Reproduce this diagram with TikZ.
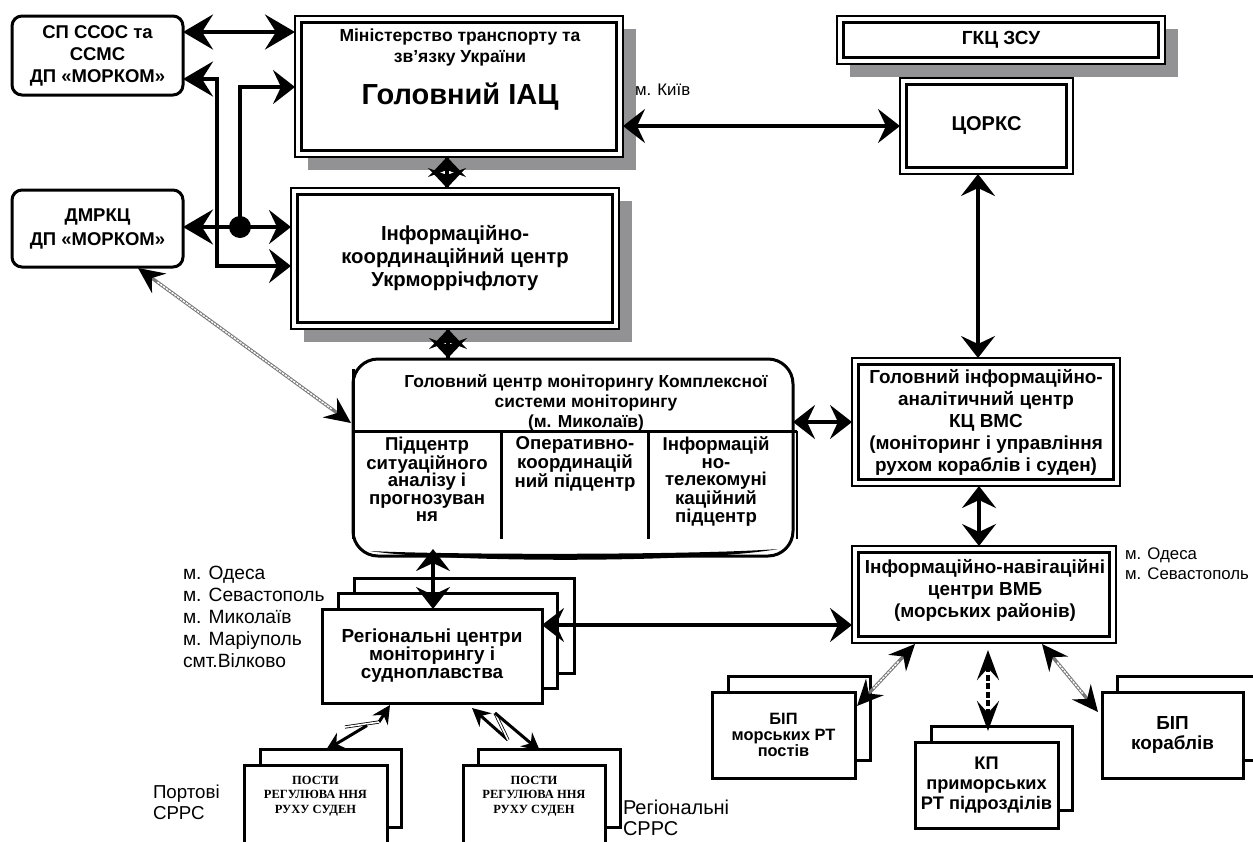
\documentclass[tikz,border=0pt]{standalone}
\usepackage{fontspec}
\setmainfont{Liberation Sans}
\newfontfamily\postfont{Liberation Serif}
\usetikzlibrary{arrows.meta,shadows}
\definecolor{shadowc}{RGB}{146,146,148}
\definecolor{hatchc}{RGB}{120,120,120}
\newcommand\fsz[2]{\fontsize{#1}{#2}\selectfont}
\newcommand\innerframe[1]{\draw[line width=3pt] ([shift={(6.5,6.5)}]#1.north west) rectangle ([shift={(-6.5,-6.5)}]#1.south east);}
\begin{document}
\begin{tikzpicture}[x=1pt,y=-1pt,
  every node/.style={inner sep=0pt, outer sep=0pt},
  tBig/.tip={Stealth[length=30pt,width=35pt,inset=11pt]},
  tMed/.tip={Stealth[length=22pt,width=34pt,inset=8pt]},
  tHat/.tip={Stealth[length=26pt,width=24pt,inset=9pt,color=black]},
  tZig/.tip={Stealth[length=18pt,width=18pt,inset=6pt]},
  tKp/.tip={Stealth[length=30pt,width=22pt,inset=12pt]},
  conn/.style={line width=4pt},
  rbox/.style={draw, line width=3pt, rounded corners=10pt, fill=white},
  dbox/.style={draw, line width=2pt, fill=white},
  shad/.style={drop shadow={shadow xshift=13pt, shadow yshift=-13pt, fill=shadowc, opacity=1}},
  sbox/.style={draw, line width=3pt, fill=white},
  bt/.style={align=center},
  lbl/.style={align=left, anchor=west},
  hatch/.style={line width=3.4pt, draw=hatchc},
  hatchin/.style={line width=1.4pt, draw=white, dash pattern=on 2.5pt off 1pt},
  dsh/.style={line width=4pt, dash pattern=on 6pt off 2.5pt},
  zthin/.style={line width=0.8pt, double=white, double distance=1.6pt},
  zthick/.style={line width=3pt},
]
\useasboundingbox (0,0) rectangle (1253,841);
\clip (0,0) rectangle (1253,841);

% ---------- top-left rounded boxes
\node[rbox, minimum width=171pt, minimum height=79pt, bt, font={\bfseries\fsz{18.5}{22}}] (sp) at (97.5,55.5) {СП ССОС та\\ССМС\\ДП «МОРКОМ»};
\node[rbox, minimum width=171pt, minimum height=77pt, bt, font={\bfseries\fsz{18.5}{24}}] (dmrkc) at (97.5,228.5) {ДМРКЦ\\ДП «МОРКОМ»};

% ---------- ministry box
\node[dbox, shad, minimum width=328pt, minimum height=141pt] (iac) at (459,86.5) {};
\innerframe{iac}
\node[bt, font={\bfseries\fsz{17.5}{21}}] (iact) at (460,47.5) {Міністерство транспорту та\\зв’язку України};
\node[bt, font={\bfseries\fsz{29}{32}}] (iacb) at (460,97) {Головний ІАЦ};
\node[lbl, font={\fsz{16.8}{20}}] (kyiv) at (635,90) {м. Київ};

% ---------- IKC
\node[dbox, shad, minimum width=328pt, minimum height=141pt, bt, font={\bfseries\fsz{20.3}{23}}] (ikc) at (455,258.5) {Інформаційно-\\координаційний центр\\Укрморрічфлоту};
\innerframe{ikc}

% ---------- GKC, CORKS
\node[dbox, shad, minimum width=328pt, minimum height=48pt, font={\bfseries\fsz{19}{22}}] (gkc) at (1001,40) {ГКЦ ЗСУ};
\innerframe{gkc}
\node[dbox, minimum width=173pt, minimum height=96pt, font={\bfseries\fsz{20}{22}}] (corks) at (986.5,126) {ЦОРКС};
\innerframe{corks}

% ---------- GIAC
\node[dbox, minimum width=268pt, minimum height=128pt, bt, font={\bfseries\fsz{18.9}{22}}] (giac) at (986,422) {Головний інформаційно-\\аналітичний центр\\КЦ ВМС\\(моніторинг і управління\\рухом кораблів і суден)};
\innerframe{giac}

% ---------- INC
\node[dbox, minimum width=264pt, minimum height=97pt] (inc) at (984,594.5) {};
\innerframe{inc}
\node[bt, font={\bfseries\fsz{18.9}{22}}] (inct) at (985,590) {Інформаційно-навігаційні\\центри ВМБ\\(морських районів)};
\node[lbl, font={\fsz{16.8}{20}}] (odr) at (1125,564) {м. Одеса\\м. Севастополь};

% ---------- GCM
\node[draw, line width=3pt, rounded corners=25pt, fill=white, minimum width=440pt, minimum height=197pt] (gcm) at (573,457.5) {};
\fill (370,551) .. controls (450,563) and (700,563) .. (778,549) .. controls (700,555) and (450,555) .. (370,551) -- cycle;
\draw[line width=3pt] (353,369) -- (353,539);
\draw[line width=2pt] (797,431) -- (797,539);
\draw[line width=3pt] (353,431) -- (797,431);
\draw[line width=3pt] (501,431) -- (501,539);
\draw[line width=3pt] (648,431) -- (648,539);
\node[bt, anchor=north, font={\bfseries\fsz{17.4}{20}}] (gcmh) at (586,375) {Головний центр моніторингу Комплексної\\системи моніторингу\\(м. Миколаїв)};
\node[bt, anchor=north, font={\bfseries\fsz{18.6}{17.5}}] (col1) at (427,437) {Підцентр\\ситуаційного\\аналізу і\\прогнозуван\\ня};
\node[bt, anchor=north, font={\bfseries\fsz{18.6}{17.5}}] (col2) at (575,437) {Оперативно-\\координацій\\ний підцентр};
\node[bt, anchor=north, font={\bfseries\fsz{18.6}{17.5}}] (col3) at (716,437) {Інформацій\\но-\\телекомуні\\каційний\\підцентр};

% ---------- regional centres
\node[sbox, minimum width=220pt, minimum height=95pt] (regb) at (464,625.5) {};
\node[sbox, minimum width=219pt, minimum height=95pt] (regm) at (447.5,640.5) {};
\node[sbox, minimum width=220pt, minimum height=94pt, bt, font={\bfseries\fsz{18.9}{18}}] (reg) at (432,656) {Регіональні центри\\моніторингу і\\судноплавства};
\node[lbl, font={\fsz{19.2}{22}}] (cities) at (183,617) {м. Одеса\\м. Севастополь\\м. Миколаїв\\м. Маріуполь\\смт.Вілково};

% ---------- posts
\node[sbox, minimum width=141pt, minimum height=78pt] (plb) at (330.5,788) {};
\node[sbox, minimum width=143pt, minimum height=110pt] (pl) at (315.5,820) {};
\node[bt, font={\postfont\bfseries\fsz{12.5}{14.5}}] (plt) at (315.5,796) {ПОСТИ\\РЕГУЛЮВА ННЯ\\РУХУ СУДЕН};
\node[sbox, minimum width=142pt, minimum height=78pt] (prb) at (549,788) {};
\node[sbox, minimum width=142pt, minimum height=110pt] (pr) at (534,820) {};
\node[bt, font={\postfont\bfseries\fsz{12.5}{14.5}}] (prt) at (534,796) {ПОСТИ\\РЕГУЛЮВА ННЯ\\РУХУ СУДЕН};
\node[lbl, font={\fsz{18.7}{21}}] (port) at (153,802) {Портові\\СРРС};
\node[lbl, font={\fsz{20}{21}}] (regs) at (623,818) {Регіональні\\СРРС};

% ---------- bottom right boxes
\node[sbox, minimum width=142pt, minimum height=84pt] (bipmb) at (799,718) {};
\node[sbox, minimum width=143pt, minimum height=86pt, bt, font={\bfseries\fsz{16.4}{16}}] (bipm) at (783.5,735) {БІП\\морських РТ\\постів};
\node[sbox, minimum width=141pt, minimum height=84pt] (kpb) at (1001.5,768) {};
\node[sbox, minimum width=143pt, minimum height=86pt, bt, font={\bfseries\fsz{18.2}{20}}] (kp) at (986.5,785) {КП\\приморських\\РТ підрозділів};
\node[sbox, minimum width=141pt, minimum height=84pt] (bipkb) at (1187.5,718) {};
\node[sbox, minimum width=141pt, minimum height=86pt, bt, font={\bfseries\fsz{18.9}{20}}] (bipk) at (1172.5,735) {БІП\\кораблів};

% ---------- connectors, left side
\coordinate (c1) at (217,79);
\coordinate (c2) at (217,266);
\coordinate (c3) at (240,87);
\draw[conn, tBig-tBig] (sp.east |- 0,32) -- (iac.west |- 0,32);
\draw[conn, tBig-tMed] (sp.east |- c1) -- (c1) -- (c2) -- (ikc.west |- c2);
\node[circle, fill, minimum size=22pt] (dot) at (240,227) {};
\draw[conn, tBig-tMed] (dmrkc.east |- dot) -- (ikc.west |- dot);
\draw[conn, -tMed] (dot.center) -- (c3) -- (iac.west |- c3);

% ---------- star connectors (two arrowheads meeting)
\coordinate (s1a) at (447,0 |- iac.south);
\coordinate (s1b) at (447,0 |- ikc.north);
\draw[conn] (s1a) -- (s1b);
\fill (s1a) -- ++(19,20) -- ++(-19,-7) -- ++(-19,7) -- cycle;
\fill (s1b) -- ++(19,-20) -- ++(-19,7) -- ++(-19,-7) -- cycle;
\coordinate (s2a) at (448,0 |- ikc.south);
\coordinate (s2b) at (448,358);
\draw[conn] (s2a) -- (s2b);
\fill (s2a) -- ++(19,20) -- ++(-19,-7) -- ++(-19,7) -- cycle;
\fill (s2b) -- ++(19,-20) -- ++(-19,7) -- ++(-19,-7) -- cycle;

% ---------- main connectors
\draw[conn, tMed-tMed] (iac.east |- 0,126) -- (corks.west |- 0,126);
\draw[conn, tMed-tMed] (978,0 |- corks.south) -- (978,0 |- giac.north);
\draw[conn, tMed-tMed] (979,0 |- giac.south) -- (979,0 |- inc.north);
\draw[conn, tMed-tMed] (gcm.east |- 0,422) -- (giac.west |- 0,422);
\coordinate (gcmb) at (433,549);
\draw[conn, tMed-tMed] (gcmb) -- (433,0 |- reg.north);
\draw[conn, tMed-tMed] (reg.east |- 0,625) -- (inc.west |- 0,625);

% ---------- hatched links
\coordinate (h1a) at (138,268);
\coordinate (h1b) at (351,423);
\draw[hatch, tHat-tHat] (h1a) -- (h1b);
\draw[hatchin, shorten <=24pt, shorten >=24pt] (h1a) -- (h1b);
\coordinate (h2a) at (915,644);
\coordinate (h2b) at (857,706);
\draw[hatch, tHat-tHat] (h2a) -- (h2b);
\draw[hatchin, shorten <=24pt, shorten >=24pt] (h2a) -- (h2b);
\coordinate (h3a) at (1042,644);
\coordinate (h3b) at (1098,712);
\draw[hatch, tHat-tHat] (h3a) -- (h3b);
\draw[hatchin, shorten <=24pt, shorten >=24pt] (h3a) -- (h3b);
\coordinate (k1) at (988,650);
\coordinate (k2) at (988,731);
\draw[dsh, tKp-tKp] (k1) -- (k2);

% ---------- radio (zigzag) links
\coordinate (zlA) at (390,705);
\coordinate (zlC) at (379,722);
\coordinate (zlD) at (345,727);
\coordinate (zlE) at (367,725.5);
\coordinate (zlB) at (326,750);
\draw[zthick, tZig-] (zlA) -- (zlC);
\draw[zthin] (zlC) -- (zlD);
\draw[zthick, -tZig] (zlE) -- (zlB);
\coordinate (zrA) at (472,708);
\coordinate (zrC) at (508,740);
\coordinate (zrD) at (495,713);
\coordinate (zrB) at (540,751);
\draw[zthick, tZig-] (zrA) -- (zrC);
\draw[zthin] (zrC) -- (zrD);
\draw[zthick, -tZig] (zrD) -- (zrB);
\end{tikzpicture}
\end{document}
